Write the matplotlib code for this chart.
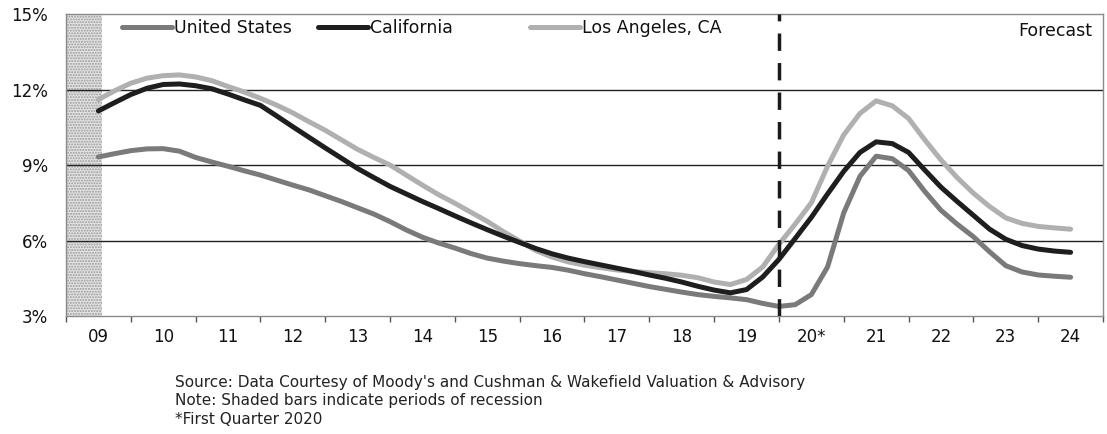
import numpy as np
import matplotlib
import matplotlib.pyplot as plt
from matplotlib.legend import Legend
from matplotlib.ticker import FixedLocator, NullFormatter, FixedFormatter

matplotlib.use("Agg")

plt.rcParams["font.family"] = ["DejaVu Sans"]

# quarterly points, first point = mid 2009
start_year = 2009.5
us_rate = [
    9.32, 9.45, 9.57, 9.64, 9.65, 9.55, 9.30, 9.12, 8.95, 8.77,
    8.60, 8.40, 8.20, 8.01, 7.78, 7.55, 7.30, 7.05, 6.75, 6.42,
    6.13, 5.90, 5.70, 5.48, 5.30, 5.18, 5.08, 5.00, 4.93, 4.82,
    4.68, 4.56, 4.43, 4.30, 4.17, 4.06, 3.95, 3.85, 3.78, 3.72,
    3.65, 3.50, 3.38, 3.45, 3.85, 4.95, 7.10, 8.55, 9.35, 9.25,
    8.78, 7.95, 7.20, 6.65, 6.15, 5.55, 5.00, 4.75, 4.63, 4.58,
    4.54,
]
ca_rate = [
    11.15, 11.48, 11.80, 12.05, 12.20, 12.22, 12.15, 12.03, 11.82, 11.59,
    11.37, 10.95, 10.52, 10.10, 9.68, 9.27, 8.86, 8.50, 8.15, 7.85,
    7.55, 7.27, 6.98, 6.70, 6.43, 6.17, 5.92, 5.68, 5.47, 5.30,
    5.16, 5.03, 4.90, 4.77, 4.63, 4.50, 4.35, 4.18, 4.03, 3.92,
    4.05, 4.55, 5.25, 6.08, 6.92, 7.85, 8.75, 9.50, 9.92, 9.85,
    9.50, 8.80, 8.12, 7.55, 7.00, 6.45, 6.05, 5.80, 5.66, 5.58,
    5.53,
]
la_rate = [
    11.60, 11.95, 12.25, 12.45, 12.55, 12.58, 12.50, 12.35, 12.12, 11.90,
    11.65, 11.38, 11.07, 10.72, 10.38, 10.00, 9.62, 9.30, 9.00, 8.60,
    8.20, 7.82, 7.48, 7.12, 6.76, 6.35, 5.98, 5.60, 5.34, 5.15,
    5.02, 4.92, 4.83, 4.77, 4.72, 4.68, 4.62, 4.52, 4.35, 4.25,
    4.45, 4.95, 5.85, 6.65, 7.50, 8.95, 10.20, 11.05, 11.55, 11.35,
    10.85, 10.00, 9.20, 8.50, 7.88, 7.35, 6.90, 6.68, 6.56, 6.50,
    6.45,
]
year_labels = ["09", "10", "11", "12", "13", "14", "15", "16",
               "17", "18", "19", "20*", "21", "22", "23", "24"]
first_year = 2009
forecast_start = 2020
recession = (2009.0, 2009.56)

t = start_year + 0.25 * np.arange(len(us_rate))

fig = plt.figure(figsize=(11.07, 4.34), dpi=100)
ax = fig.add_axes([0.0596, 0.2719, 0.9368, 0.6958])

ax.axvspan(recession[0], recession[1], facecolor="#e4e4e4", edgecolor="#9a9a9a",
           hatch="......", linewidth=0, zorder=1)

for yv in [6, 9, 12]:
    ax.axhline(yv, color="#222222", linewidth=1, zorder=2)

series = [
    ("United States", us_rate, "#7a7a7a", 4),
    ("California", ca_rate, "#1e1e1e", 5),
    ("Los Angeles, CA", la_rate, "#b0b0b0", 3),
]
lines = {}
for name, vals, col, z in series:
    lines[name], = ax.plot(t, vals, color=col, linewidth=3.6, solid_capstyle="round",
                           label=name, zorder=z)

ax.axvline(forecast_start, color="#1a1a1a", linewidth=2.5, dashes=(5, 3.5), zorder=6)

ax.set_xlim(first_year, first_year + len(year_labels))
ax.set_ylim(3, 15)

ax.xaxis.set_major_locator(FixedLocator(np.arange(first_year, first_year + len(year_labels) + 1)))
ax.xaxis.set_major_formatter(NullFormatter())
ax.xaxis.set_minor_locator(FixedLocator(np.arange(len(year_labels)) + first_year + 0.5))
ax.xaxis.set_minor_formatter(FixedFormatter(year_labels))
ax.tick_params(axis="x", which="major", direction="out", length=4, width=1, color="#555555")
ax.tick_params(axis="x", which="minor", length=0, pad=9, labelsize=12, labelcolor="#111111")

ax.set_yticks([3, 6, 9, 12, 15])
ax.set_yticklabels(["3%", "6%", "9%", "12%", "15%"])
ax.tick_params(axis="y", length=0, pad=13, labelsize=12, labelcolor="#111111")

for s in ax.spines.values():
    s.set_color("#8a8a8a")
    s.set_linewidth(1)

# one legend per series so each entry sits where it does in the original
legend_x = [0.054, 0.243, 0.4474]
for (name, _, _, _), lx in zip(series, legend_x):
    leg = Legend(ax, [lines[name]], [name], loc="center left", bbox_to_anchor=(lx, 0.9536),
                 frameon=False, fontsize=12.5, handlelength=2.9, handletextpad=0.1,
                 borderpad=0, borderaxespad=0, labelcolor="#111111")
    ax.add_artist(leg)

ax.text(0.99, 0.972, "Forecast", transform=ax.transAxes, ha="right", va="top",
        fontsize=12.5, color="#111111")

notes = ["Source: Data Courtesy of Moody's and Cushman & Wakefield Valuation & Advisory",
         "Note: Shaded bars indicate periods of recession",
         "*First Quarter 2020"]
for i, line in enumerate(notes):
    fig.text(175 / 1107, 1 - (382 + 18.5 * i) / 434, line, ha="left", va="center",
             fontsize=11, color="#222222")

fig.savefig("out.png", dpi=100)
